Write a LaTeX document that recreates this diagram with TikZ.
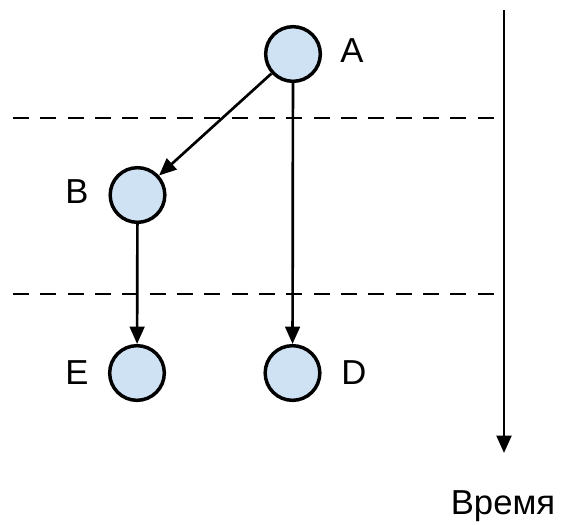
\documentclass[tikz,border=0pt]{standalone}
\usepackage{fontspec}
\setmainfont{Liberation Sans}
\usetikzlibrary{arrows.meta}
\definecolor{nodeblue}{HTML}{CFE2F3}
\begin{document}
\begin{tikzpicture}[x=0.75pt,y=-0.75pt,
  event/.style={circle,draw=black,line width=2.6pt,fill=nodeblue,minimum size=41pt,inner sep=0pt},
  lbl/.style={font=\fontsize{26}{30}\selectfont,inner sep=0pt},
  conn/.style={line width=2pt,-{Triangle[length=13pt,width=11pt]}},
  sep/.style={line width=2.2pt,dash pattern=on 12pt off 8.5pt}]
\useasboundingbox (0,0) rectangle (561,525);
\node[event] (a) at (293,54) {};
\node[event] (b) at (137.5,195) {};
\node[event] (e) at (137,373) {};
\node[event] (d) at (292.5,373) {};
\node[lbl] (la) at (352,51) {A};
\node[lbl] (lb) at (77,192) {B};
\node[lbl] (le) at (77,373) {E};
\node[lbl] (ld) at (354,373) {D};
\coordinate (s1a) at (13,118);
\coordinate (s1b) at (504,118);
\coordinate (s2a) at (13,294);
\coordinate (s2b) at (504,294);
\draw[sep] (s1a) -- (s1b);
\draw[sep] (s2a) -- (s2b);
\coordinate (t1) at (504,10);
\coordinate (t2) at (504,453);
\draw[conn,line width=2.2pt] (t1) -- (t2);
\node[lbl] (time) at (503,506) {Время};
\draw[conn] (a) -- (b);
\draw[conn] (a) -- (d);
\draw[conn] (b) -- (e);
\end{tikzpicture}
\end{document}
